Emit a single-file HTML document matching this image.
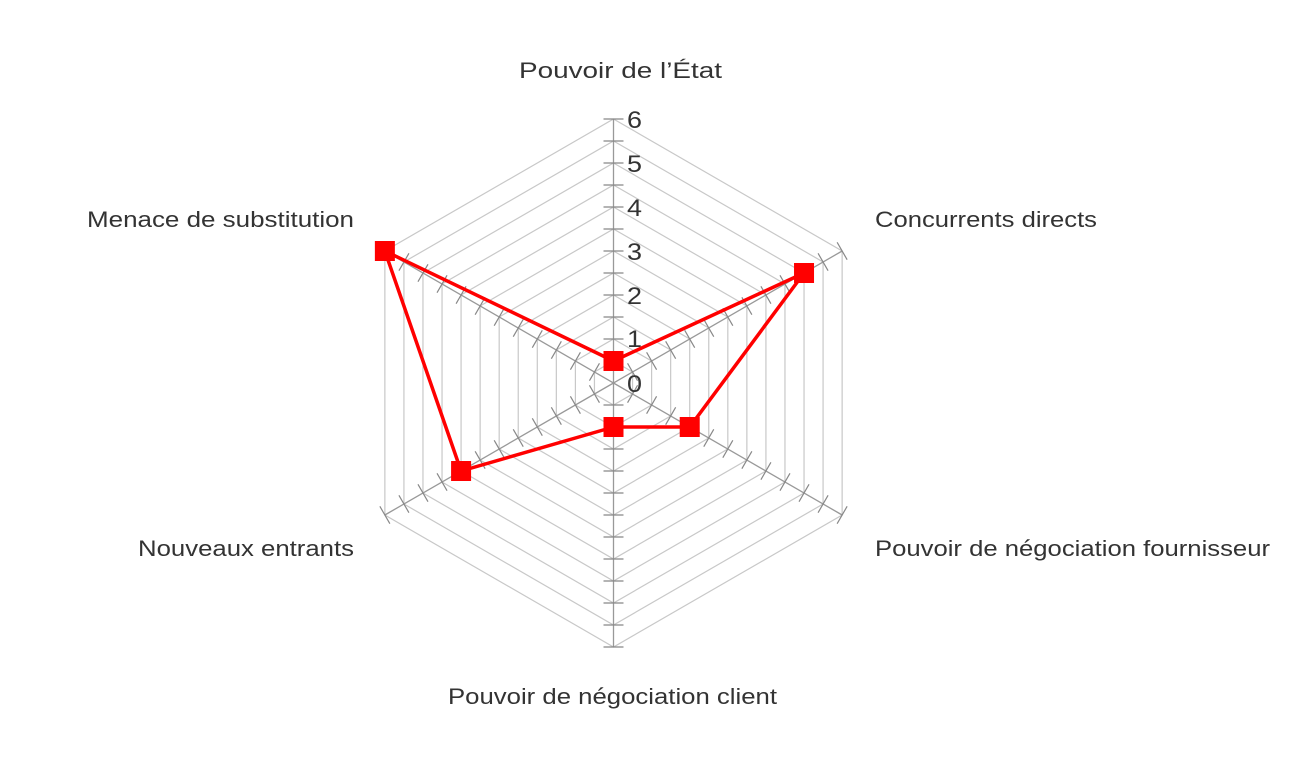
<!DOCTYPE html>
<html><head><meta charset="utf-8"><style>
html,body{margin:0;padding:0;background:#fff;}
svg{display:block;}
text{font-family:"Liberation Sans",sans-serif;fill:#333;}
</style></head><body>
<svg id="s" width="1294" height="778" viewBox="0 0 1294 778" xmlns="http://www.w3.org/2000/svg">
<g id="grid"></g>
<g font-size="22">
<text x="519" y="78" textLength="203" lengthAdjust="spacingAndGlyphs">Pouvoir de l’État</text>
<text x="87" y="227" textLength="267" lengthAdjust="spacingAndGlyphs">Menace de substitution</text>
<text x="875" y="227" textLength="222" lengthAdjust="spacingAndGlyphs">Concurrents directs</text>
<text x="138" y="556" textLength="216" lengthAdjust="spacingAndGlyphs">Nouveaux entrants</text>
<text x="875" y="556" textLength="395" lengthAdjust="spacingAndGlyphs">Pouvoir de négociation fournisseur</text>
<text x="448" y="704" textLength="329" lengthAdjust="spacingAndGlyphs">Pouvoir de négociation client</text>
</g>
<g font-size="24">
<text x="627" y="128" textLength="15" lengthAdjust="spacingAndGlyphs">6</text>
<text x="627" y="172" textLength="15" lengthAdjust="spacingAndGlyphs">5</text>
<text x="627" y="216" textLength="15" lengthAdjust="spacingAndGlyphs">4</text>
<text x="627" y="260" textLength="15" lengthAdjust="spacingAndGlyphs">3</text>
<text x="627" y="304" textLength="15" lengthAdjust="spacingAndGlyphs">2</text>
<text x="627" y="347" textLength="15" lengthAdjust="spacingAndGlyphs">1</text>
<text x="627" y="392" textLength="15" lengthAdjust="spacingAndGlyphs">0</text>
</g>
<g id="data"></g>
</svg>
<script>
var cx=613.5,cy=383,u=44;
var angs=[90,30,-30,-90,-150,150].map(function(a){return a*Math.PI/180;});
function pt(i,v){return [cx+Math.cos(angs[i])*v*u, cy-Math.sin(angs[i])*v*u];}
var g=document.getElementById('grid'),h='';
for(var k=1;k<=12;k++){var v=k/2,p=[];for(var i=0;i<6;i++){p.push(pt(i,v).join(','));}
h+='<polygon points="'+p.join(' ')+'" fill="none" stroke="#c8c8c8" stroke-width="1.2"/>';}
for(var i=0;i<6;i++){var e=pt(i,6);h+='<line x1="'+cx+'" y1="'+cy+'" x2="'+e[0]+'" y2="'+e[1]+'" stroke="#999" stroke-width="1.3"/>';
var px=-Math.sin(angs[i]),py=-Math.cos(angs[i]);
for(var k=1;k<=12;k++){var q=pt(i,k/2);h+='<line x1="'+(q[0]-px*10)+'" y1="'+(q[1]-py*10)+'" x2="'+(q[0]+px*10)+'" y2="'+(q[1]+py*10)+'" stroke="#888" stroke-width="1.2"/>';}}
g.innerHTML=h;
var vals=[0.5,5,2,1,4,6],pts=[],d='';
for(var i=0;i<6;i++){pts.push(pt(i,vals[i]));}
d+='<polygon points="'+pts.map(function(p){return p.join(',')}).join(' ')+'" fill="none" stroke="#f00" stroke-width="3.5" stroke-linejoin="round"/>';
pts.forEach(function(p){d+='<rect x="'+(p[0]-10)+'" y="'+(p[1]-10)+'" width="20" height="20" fill="#f00"/>';});
document.getElementById('data').innerHTML=d;
</script>
</body></html>
